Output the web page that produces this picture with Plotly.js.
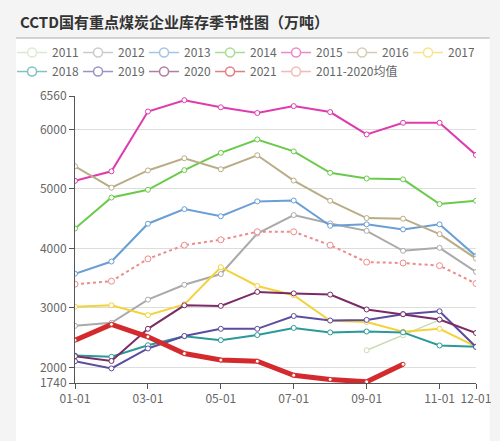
<!DOCTYPE html>
<html>
<head>
<meta charset="utf-8">
<script src="https://cdn.plot.ly/plotly-3.0.1.min.js"></script>
<style>
html,body{margin:0;padding:0;background:#f4f4f4;}
#chart{width:500px;height:441px;}
</style>
</head>
<body>
<div id="chart"></div>
<script>
// Categories (x axis)
var months = ['01-01','02-01','03-01','04-01','05-01','06-01','07-01','08-01','09-01','10-01','11-01','12-01'];
var tickLabels = ['01-01','03-01','05-01','07-01','09-01','11-01','12-01'];
var yTicks = [1740, 2000, 3000, 4000, 5000, 6000, 6560];
var chartTitle = 'CCTD国有重点煤炭企业库存季节性图（万吨）';

// Series values (万吨)
var y2011 = [null, null, null, null, null, null, null, null, 2290, 2540, 2800, null];
var y2012 = [2700, 2750, 3140, 3390, 3570, 4250, 4560, 4420, 4295, 3960, 4010, 3605];
var y2013 = [3575, 3780, 4415, 4660, 4540, 4790, 4805, 4380, 4405, 4320, 4405, 3870];
var y2014 = [4335, 4855, 4985, 5315, 5605, 5830, 5630, 5270, 5175, 5160, 4745, 4800];
var y2015 = [5135, 5295, 6300, 6490, 6370, 6275, 6390, 6290, 5915, 6110, 6110, 5570];
var y2016 = [5380, 5020, 5310, 5515, 5330, 5565, 5140, 4800, 4510, 4500, 4240, 3830];
var y2017 = [3020, 3045, 2880, 3060, 3685, 3370, 3215, 2785, 2765, 2600, 2650, 2350];
var y2018 = [2200, 2180, 2375, 2525, 2460, 2545, 2665, 2590, 2605, 2590, 2370, 2350];
var y2019 = [2105, 1985, 2320, 2530, 2650, 2650, 2865, 2790, 2800, 2895, 2945, 2345];
var y2020 = [2190, 2110, 2650, 3045, 3035, 3270, 3245, 3225, 2975, 2895, 2805, 2580];
var y2021 = [2460, 2725, 2515, 2235, 2125, 2105, 1870, 1800, 1760, 2055, null, null];
var yAvg  = [3400, 3450, 3825, 4055, 4145, 4280, 4280, 4055, 3770, 3755, 3710, 3410];

var seriesNames = ['2011','2012','2013','2014','2015','2016','2017','2018','2019','2020','2021','2011-2020均值'];
var seriesData  = [y2011, y2012, y2013, y2014, y2015, y2016, y2017, y2018, y2019, y2020, y2021, yAvg];
var seriesColors = ['#c9dcb4','#aaaaaa','#6a9fd4','#6acb4a','#de3cae','#b9ad86','#f4d23c','#2a9a98','#5c4ca0','#7a2b66','#d42a2e','#ee8a8a'];

var nulls = months.map(function(){ return null; });

// data traces (legend hidden)
var traces = seriesNames.map(function(name, i){
  var isRed = name === '2021';
  var isAvg = i === seriesNames.length - 1;
  return {
    type: 'scatter',
    mode: 'lines+markers',
    name: name,
    legendgroup: name,
    showlegend: false,
    x: months,
    y: seriesData[i],
    connectgaps: false,
    line: {color: seriesColors[i], width: isRed ? 5 : (name === '2011' ? 1.5 : 2), dash: isAvg ? 'dot' : 'solid'},
    marker: {symbol: 'circle', size: isAvg ? 6 : (isRed ? 4 : 5), color: '#ffffff', line: {color: seriesColors[i], width: 1}}
  };
});

// legend entries (uniform faded icons like the reference)
seriesNames.forEach(function(name, i){
  traces.push({
    type: 'scatter',
    mode: 'lines+markers',
    name: name,
    legendgroup: name,
    showlegend: true,
    x: months,
    y: nulls,
    opacity: 0.6,
    line: {color: seriesColors[i], width: 1.5},
    marker: {symbol: 'circle', size: 9, color: '#ffffff', line: {color: seriesColors[i], width: 1.5}}
  });
});

var layout = {
  width: 500,
  height: 441,
  margin: {l: 68, r: 24, t: 96, b: 58},
  paper_bgcolor: '#f4f4f4',
  plot_bgcolor: '#ffffff',
  font: {family: '"Noto Sans CJK SC", "Open Sans", sans-serif', color: '#666666', size: 12},
  showlegend: true,
  legend: {
    orientation: 'h',
    x: -0.157, xanchor: 'left',
    y: 1.202, yanchor: 'top',
    bgcolor: 'rgba(0,0,0,0)',
    font: {size: 12, color: '#666666'},
    itemwidth: 30,
    entrywidth: 21,
    entrywidthmode: 'pixels',
    traceorder: 'normal'
  },
  annotations: [
    {text: '<b>' + chartTitle + '</b>', xref: 'paper', yref: 'paper',
     x: -0.142, xanchor: 'left', y: 1.258, yanchor: 'middle', showarrow: false,
     font: {family: '"Noto Sans CJK SC", sans-serif', size: 15, color: '#333333'}}
  ],
  xaxis: {
    type: 'category',
    range: [0, 11],
    tickmode: 'array',
    tickvals: tickLabels,
    ticktext: tickLabels,
    showgrid: false,
    showline: true,
    linecolor: '#555555',
    linewidth: 1,
    ticks: 'outside',
    ticklen: 5,
    tickcolor: '#555555',
    tickfont: {size: 12, color: '#666666'},
    zeroline: false,
    fixedrange: true
  },
  yaxis: {
    range: [1740, 6560],
    tickmode: 'array',
    tickvals: yTicks,
    ticktext: yTicks.map(String),
    showgrid: true,
    gridcolor: '#dddddd',
    gridwidth: 1,
    showline: true,
    linecolor: '#555555',
    linewidth: 1,
    ticks: 'outside',
    ticklen: 5,
    tickcolor: '#555555',
    tickfont: {size: 12, color: '#666666'},
    zeroline: false,
    fixedrange: true
  },
  shapes: [
    {type: 'rect', xref: 'paper', yref: 'paper', x0: -0.147, x1: 1.034, y0: -0.21, y1: 1.202,
     fillcolor: '#ffffff', line: {width: 0}, layer: 'below'},
    {type: 'line', xref: 'paper', yref: 'paper', x0: -0.147, x1: 1.034, y0: 1.202, y1: 1.202,
     line: {color: '#aaaaaa', width: 1}, layer: 'below'}
  ]
};

Plotly.newPlot('chart', traces, layout, {displayModeBar: false, staticPlot: true});
</script>
</body>
</html>
